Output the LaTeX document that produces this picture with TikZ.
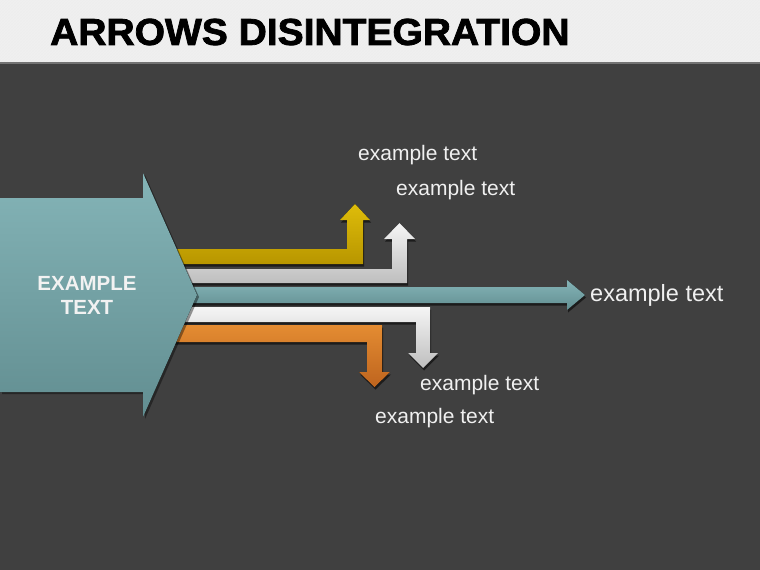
\documentclass[tikz,border=0pt]{standalone}
\usepackage{fontspec}
\setmainfont{Liberation Sans}
\newfontfamily\titlefont[FakeBold=2]{Liberation Sans Bold}
\usetikzlibrary{shadows,patterns}

\tikzset{
    band/.style={drop shadow={shadow xshift=1pt, shadow yshift=-2.5pt, opacity=0.55, fill=black}},
    lbl/.style={anchor=west, inner sep=0pt, text=white!94!black, font=\fontsize{21}{24}\selectfont}
}

\begin{document}
\begin{tikzpicture}[x=1pt, y=-1pt]
    \colorlet{slide}{black!75}
    \definecolor{tealtop}{RGB}{132,180,183}
    \definecolor{tealbot}{RGB}{98,142,145}
    \definecolor{yeltop}{RGB}{222,188,10}
    \definecolor{yelbot}{RGB}{184,150,0}
    \definecolor{whitop}{RGB}{245,245,245}
    \definecolor{whibot}{RGB}{190,190,190}
    \definecolor{orgtop}{RGB}{228,140,50}
    \definecolor{orgbot}{RGB}{190,100,30}

    \useasboundingbox (0,0) rectangle (760,570);

    % header and slide background
    \fill[black!6] (0,0) rectangle (760,62);
    \fill[pattern=north east lines, pattern color=black!7] (0,0) rectangle (760,62);
    \fill[slide] (0,62) rectangle (760,570);
    \fill[black!55] (0,62) rectangle (760,64);
    \node[anchor=west, inner sep=0pt, xscale=1.04, font=\fontsize{37.5}{38}\selectfont\titlefont] (title) at (50,32) {ARROWS DISINTEGRATION};

    % branch arrows (drawn first, they start behind the big arrow)
    \fill[band, top color=orgtop, bottom color=orgbot]
        (0,325) -- (382,325) -- (382,372) -- (390,372) -- (374.5,387) -- (359,372) -- (367,372) -- (367,342) -- (0,342) -- cycle;
    \fill[band, top color=whitop, bottom color=whibot]
        (0,307) -- (430,307) -- (430,353) -- (438,353) -- (423,368) -- (408,353) -- (416,353) -- (416,322) -- (0,322) -- cycle;
    \fill[band, top color=tealtop, bottom color=tealbot]
        (0,287) -- (567,287) -- (567,280) -- (585,295) -- (567,310) -- (567,303) -- (0,303) -- cycle;
    \fill[band, top color=whitop, bottom color=whibot]
        (0,269) -- (392,269) -- (392,239) -- (384,239) -- (399.5,223) -- (415,239) -- (407,239) -- (407,283) -- (0,283) -- cycle;
    \fill[band, top color=yeltop, bottom color=yelbot]
        (0,249) -- (347,249) -- (347,220) -- (340,220) -- (355,204) -- (370,220) -- (363,220) -- (363,264) -- (0,264) -- cycle;

    % big source arrow
    \fill[drop shadow={shadow xshift=2pt, shadow yshift=-2pt, opacity=0.4, fill=black}, top color=tealtop, bottom color=tealbot]
        (0,198) -- (143,198) -- (143,173) -- (197,295) -- (143,417) -- (143,392) -- (0,392) -- cycle;
    \node[align=center, inner sep=0pt, text=white!95!black, font=\fontsize{20.5}{24}\selectfont\bfseries] (src) at (87,295) {EXAMPLE\\TEXT};

    % labels
    \node[lbl] (up1)   at (358,155) {example text};
    \node[lbl] (up2)   at (396,190) {example text};
    \node[lbl, font=\fontsize{23.5}{26}\selectfont] (mid) at (590,295) {example text};
    \node[lbl] (down1) at (420,385) {example text};
    \node[lbl] (down2) at (375,418) {example text};
\end{tikzpicture}
\end{document}
